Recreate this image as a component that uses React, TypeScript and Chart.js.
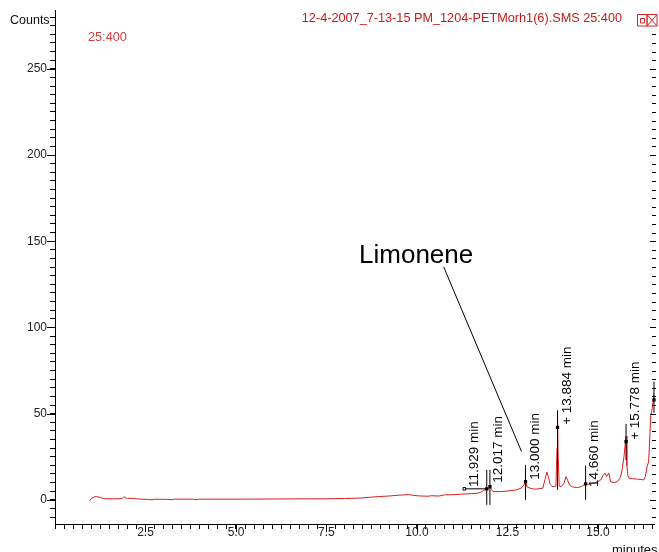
import React, { useEffect, useRef } from 'react';
import { Chart, registerables } from 'chart.js';

Chart.register(...registerables);

// ---- data ----
const timeMin = [
  0.96, 1.0, 1.08, 1.15, 1.25, 1.35, 1.6, 1.85, 1.9, 1.95, 2.0, 2.1, 2.3, 2.55, 2.65, 2.75,
  3.1, 3.2, 3.3, 3.8, 3.9, 4.0, 5.0, 6.0, 7.0, 7.5, 8.0, 8.4, 8.7, 8.94, 9.2, 9.5, 9.77, 9.9,
  10.05, 10.3, 10.4, 10.6, 10.77, 11.0, 11.22, 11.5, 11.69, 11.8, 11.87, 11.93, 11.97, 12.017,
  12.06, 12.1, 12.33, 12.45, 12.6, 12.75, 12.88, 12.95, 13.0, 13.04, 13.15, 13.25, 13.4, 13.48,
  13.54, 13.59, 13.63, 13.68, 13.74, 13.84, 13.87, 13.884, 13.9, 13.93, 13.98, 14.05, 14.12,
  14.17, 14.22, 14.3, 14.44, 14.55, 14.66, 14.75, 14.9, 15.0, 15.08, 15.15, 15.2, 15.24, 15.3,
  15.35, 15.45, 15.54, 15.62, 15.67, 15.72, 15.778, 15.8, 15.83, 15.86, 15.95, 16.09, 16.2,
  16.27, 16.31, 16.36, 16.4, 16.43, 16.46, 16.5, 16.53, 16.55,
];
const counts = [
  -0.5, 0.8, 1.7, 1.9, 1.4, 0.7, 0.6, 0.7, 1.8, 1.3, 0.8, 0.9, 0.5, 0.3, 0.0, 0.4,
  0.3, 0.1, 0.4, 0.4, 0.1, 0.4, 0.4, 0.5, 0.6, 0.6, 0.8, 1.0, 1.5, 1.9, 2.2, 2.7, 3.1, 2.6,
  2.3, 2.1, 2.4, 2.2, 2.9, 3.0, 3.3, 3.6, 3.9, 4.8, 5.8, 6.4, 6.2, 7.7,
  6.0, 4.8, 4.8, 5.0, 5.4, 5.8, 6.8, 8.5, 10.6, 7.6, 6.6, 6.2, 6.5, 6.8,
  12.0, 16.1, 13.5, 9.0, 7.6, 8.0, 30, 50, 28, 8.0, 7.7, 9.0, 13.5,
  11, 8.5, 7.5, 7.1, 7.8, 9.3, 9.0, 9.7, 10.5, 11.6, 14.5, 15.5, 13.5, 15.6,
  10.5, 10.0, 10.6, 13, 17.4, 25, 37, 20, 14, 12.6, 12.3, 12.0, 11.8,
  11.6, 13.5, 19.3, 22, 34, 49, 53, 58, 62,
];

const peakTimes = [11.929, 12.017, 13.0, 13.884, 14.66, 15.778, 16.55];
const peakMarker = [6.4, 7.7, 10.6, 42, 9.3, 33.8, 58];
const peakLineTop = [17.4, 17.4, 20.3, 52, 19.9, 44, 68.6];
const peakLineBottom = [-2.9, -2.9, 0, 5.8, 0, 23, 50.5];
const peakLabels = ['11.929 min', '12.017 min', '13.000 min', '+ 13.884 min', '14.660 min', '+ 15.778 min'];
const peakLabelBase = [7.5, 9.9, 11.6, 43.5, 7.5, 34.8];

const baselineTimes = [11.31, 11.929];
const baselineCounts = [6.4, 6.4];

const limoneneText = 'Limonene';
const limoneneTextAt = [8.4, 137.4];
const limoneneLineTimes = [10.74, 12.89];
const limoneneLineCounts = [135.1, 28.0];

const xTickValues = Array.from({ length: 67 }, (_, i) => i * 0.25);
const xTickLabels = ['2.5', '5.0', '7.5', '10.0', '12.5', '15.0'];
const yTickValues = Array.from({ length: 59 }, (_, i) => -10 + i * 5);
const yTickLabels = ['0', '50', '100', '150', '200', '250'];
const rightTickValues = Array.from({ length: 57 }, (_, i) => -10 + i * 5);

const titleText = '12-4-2007_7-13-15 PM_1204-PETMorh1(6).SMS 25:400';
const subTitleText = '25:400';
const yTitle = 'Counts';
const xTitle = 'minutes';

// ---- styles ----
const FONT = 'Arial, "Liberation Sans", sans-serif';
const RED = 'rgb(218, 32, 32)';
const LABEL_DX = [-12, 8.5, 9.5, 10, 9, 9.5];

const overlayPlugin = {
  id: 'overlay',
  afterDraw(chart: any) {
    const { ctx, chartArea } = chart;
    const x = chart.scales.x;
    const y = chart.scales.y;
    ctx.save();
    ctx.strokeStyle = '#000';
    ctx.lineWidth = 1;
    ctx.beginPath();
    // longer major ticks
    xTickLabels.forEach((l) => {
      const px = Math.round(x.getPixelForValue(parseFloat(l))) + 0.5;
      ctx.moveTo(px, chartArea.bottom);
      ctx.lineTo(px, chartArea.bottom + 8);
    });
    yTickLabels.forEach((l) => {
      const py = Math.round(y.getPixelForValue(parseFloat(l))) + 0.5;
      ctx.moveTo(chartArea.left - 8, py);
      ctx.lineTo(chartArea.left, py);
    });
    // right axis ticks (pointing inward)
    const rx = chartArea.right + 2;
    rightTickValues.forEach((v) => {
      const py = Math.round(y.getPixelForValue(v)) + 0.5;
      const len = v % 50 === 0 ? 6 : 4;
      ctx.moveTo(rx - len, py);
      ctx.lineTo(rx, py);
    });
    ctx.stroke();

    // peak labels (rotated)
    ctx.fillStyle = '#000';
    ctx.font = `13.5px ${FONT}`;
    ctx.textAlign = 'left';
    ctx.textBaseline = 'middle';
    peakLabels.forEach((lab, i) => {
      const px = x.getPixelForValue(peakTimes[i]) + LABEL_DX[i];
      const py = y.getPixelForValue(peakLabelBase[i]);
      ctx.save();
      ctx.translate(px, py);
      ctx.rotate(-Math.PI / 2);
      ctx.fillText(lab, 0, 0);
      ctx.restore();
    });

    // Limonene
    ctx.font = `26px ${FONT}`;
    ctx.textBaseline = 'alphabetic';
    ctx.fillText(limoneneText, x.getPixelForValue(limoneneTextAt[0]), y.getPixelForValue(limoneneTextAt[1]));

    // titles
    ctx.fillStyle = 'rgb(200, 24, 24)';
    ctx.font = `12.7px ${FONT}`;
    ctx.textAlign = 'right';
    ctx.textBaseline = 'middle';
    ctx.fillText(titleText, 622, 18);
    ctx.fillStyle = 'rgb(210, 64, 64)';
    ctx.textAlign = 'left';
    ctx.fillText(subTitleText, 88, 37);

    ctx.fillStyle = '#111';
    ctx.font = `12.5px ${FONT}`;
    ctx.fillText(yTitle, 10, 21);
    ctx.font = `13px ${FONT}`;
    ctx.textBaseline = 'alphabetic';
    ctx.fillText(xTitle, 612, 554);

    // window icons
    ctx.strokeStyle = 'rgb(210, 40, 40)';
    ctx.beginPath();
    ctx.rect(637.5, 14.5, 9.5, 11.5);
    ctx.rect(647, 14.5, 10, 11.5);
    ctx.rect(640.5, 18.5, 4, 4.5);
    ctx.moveTo(647, 14.5); ctx.lineTo(657, 26);
    ctx.moveTo(657, 14.5); ctx.lineTo(647, 26);
    ctx.stroke();
    ctx.restore();
  },
};

export default function App() {
  const ref = useRef<HTMLCanvasElement | null>(null);
  useEffect(() => {
    document.body.style.margin = '0';
    if (!ref.current) return;
    const trace = timeMin.map((t, i) => ({ x: t, y: counts[i] }));
    const peakLineSets = peakTimes.map((t, i) => ({
      data: [{ x: t, y: peakLineBottom[i] }, { x: t, y: peakLineTop[i] }],
      borderColor: '#000', borderWidth: 1, pointRadius: 0, order: 2, clip: 6,
    }));
    const chart = new Chart(ref.current, {
      type: 'line',
      data: {
        datasets: [
          {
            data: peakTimes.map((t, i) => ({ x: t, y: peakMarker[i] })),
            showLine: false, pointStyle: 'rect', pointRadius: 2.3,
            backgroundColor: '#000', borderColor: '#000', borderWidth: 0, order: 0, clip: 6,
          },
          {
            data: baselineTimes.map((t, i) => ({ x: t, y: baselineCounts[i] })),
            borderColor: '#000', borderWidth: 1, order: 1,
            pointStyle: 'rect', pointRadius: [1.8, 0], pointBackgroundColor: '#fff',
            pointBorderColor: '#000', pointBorderWidth: 1,
          },
          {
            data: limoneneLineTimes.map((t, i) => ({ x: t, y: limoneneLineCounts[i] })),
            borderColor: '#000', borderWidth: 1, pointRadius: 0, order: 1,
          },
          ...peakLineSets,
          {
            data: trace, borderColor: RED, borderWidth: 1, pointRadius: 0, tension: 0, order: 5,
          },
        ] as any,
      },
      options: {
        animation: false,
        responsive: false,
        devicePixelRatio: 1,
        layout: { padding: { top: 10, right: 2, left: 0, bottom: 0 } },
        plugins: { legend: { display: false }, tooltip: { enabled: false }, title: { display: false } },
        events: [],
        scales: {
          x: {
            type: 'linear', min: 0, max: 16.55,
            afterBuildTicks: (s: any) => { s.ticks = xTickValues.map((v) => ({ value: v })); },
            afterFit: (s: any) => { s.height = 28; },
            grid: { display: true, drawOnChartArea: false, drawTicks: true, tickLength: 5, tickColor: '#000' },
            border: { display: true, color: '#000', width: 1 },
            ticks: {
              autoSkip: false, maxRotation: 0, minRotation: 0, padding: -4, color: '#222',
              font: { family: FONT, size: 12 },
              callback: (v: any) => {
                const s = Number(v).toFixed(1);
                return xTickLabels.includes(s) ? s : '';
              },
            },
          },
          y: {
            type: 'linear', min: -14, max: 284,
            afterBuildTicks: (s: any) => { s.ticks = yTickValues.map((v) => ({ value: v })); },
            afterFit: (s: any) => { s.width = 55; },
            grid: { display: true, drawOnChartArea: false, drawTicks: true, tickLength: 5, tickColor: '#000' },
            border: { display: true, color: '#000', width: 1 },
            ticks: {
              autoSkip: false, padding: 3, color: '#222',
              font: { family: FONT, size: 12 },
              callback: (v: any) => {
                const s = String(Math.round(Number(v)));
                return yTickLabels.includes(s) ? s : '';
              },
            },
          },
        },
      } as any,
      plugins: [overlayPlugin],
    });
    return () => chart.destroy();
  }, []);
  return (
    <div style={{ position: 'absolute', left: 0, top: 0, width: 659, height: 552, background: '#fff' }}>
      <canvas ref={ref} width={659} height={552} style={{ display: 'block' }} />
    </div>
  );
}
